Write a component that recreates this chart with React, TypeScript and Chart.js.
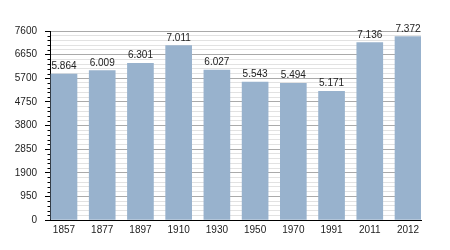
import React, { useEffect, useRef } from "react";
import { Chart, registerables } from "chart.js";

Chart.register(...registerables);

const categories: string[] = ["1857", "1877", "1897", "1910", "1930", "1950", "1970", "1991", "2011", "2012"];
const population: number[] = [5864, 6009, 6301, 7011, 6027, 5543, 5494, 5171, 7136, 7372];
const yMax = 7600;
const yMajorStep = 950;
const yMinorStep = 190;

const FONT = "'Liberation Sans', Arial, Helvetica, sans-serif";

function fmt(v: number): string {
  const th = Math.floor(v / 1000);
  const rest = v % 1000;
  return th > 0 ? th + "." + String(rest).padStart(3, "0") : String(rest);
}

const valueLabels = {
  id: "valueLabels",
  afterDatasetsDraw(chart: any) {
    const ctx = chart.ctx;
    const meta = chart.getDatasetMeta(0);
    ctx.save();
    ctx.font = `10px ${FONT}`;
    ctx.fillStyle = "#222";
    ctx.textAlign = "center";
    ctx.textBaseline = "alphabetic";
    meta.data.forEach((bar: any, i: number) => {
      ctx.fillText(fmt(population[i]), bar.x, bar.y - 5);
    });
    ctx.restore();
  },
};

const minorTicks = {
  id: "minorTicks",
  afterDraw(chart: any) {
    const ctx = chart.ctx;
    const y = chart.scales.y;
    const left = chart.chartArea.left;
    ctx.save();
    ctx.strokeStyle = "#000";
    ctx.lineWidth = 1;
    y.ticks.forEach((t: any) => {
      if (t.value % yMajorStep === 0) return;
      const py = Math.round(y.getPixelForValue(t.value)) + 0.5;
      ctx.beginPath();
      ctx.moveTo(left - 2.5, py);
      ctx.lineTo(left, py);
      ctx.stroke();
    });
    ctx.restore();
  },
};

export default function App() {
  const ref = useRef<HTMLCanvasElement>(null);
  useEffect(() => {
    if (!ref.current) return;
    const chart = new Chart(ref.current, {
      type: "bar",
      data: {
        datasets: [
          {
            data: population.map((v, i) => ({ x: i, y: v })),
            backgroundColor: "#98b2cd",
            borderWidth: 0,
            barThickness: 26,
          },
        ],
      },
      options: {
        responsive: false,
        animation: false,
        layout: { padding: { top: 31, right: 29, left: 0, bottom: 0 } },
        plugins: { legend: { display: false }, tooltip: { enabled: false } },
        scales: {
          x: {
            type: "linear",
            offset: false,
            min: -0.366,
            max: 9.34,
            afterFit: (s: any) => {
              s.height = 30;
            },
            grid: { display: false, drawTicks: false, offset: false },
            border: { display: true, color: "#000", width: 1 },
            ticks: {
              stepSize: 1,
              includeBounds: false,
              autoSkip: false,
              maxRotation: 0,
              padding: 4,
              color: "#222",
              font: { family: FONT, size: 10 },
              callback: (v: any) => (Number.isInteger(v) && categories[v] !== undefined ? categories[v] : ""),
            },
          },
          y: {
            min: 0,
            max: yMax,
            afterFit: (s: any) => {
              s.width = 50;
            },
            border: { display: true, color: "#000", width: 1 },
            grid: {
              color: (c: any) => (c.tick && c.tick.value % yMajorStep === 0 ? "#aaaaaa" : "#e2e2e2"),
              tickColor: (c: any) => (c.tick && c.tick.value % yMajorStep === 0 ? "#000" : "rgba(0,0,0,0)"),
              tickLength: 5,
              lineWidth: 1,
            },
            ticks: {
              stepSize: yMinorStep,
              autoSkip: false,
              padding: 8,
              color: "#222",
              font: { family: FONT, size: 10 },
              callback: (v: any) => (v % yMajorStep === 0 ? String(v) : ""),
            },
          },
        },
      },
      plugins: [valueLabels, minorTicks],
    });
    return () => chart.destroy();
  }, []);
  return (
    <div style={{ position: "fixed", left: 0, top: 0, width: 450, height: 250, background: "#fff" }}>
      <canvas ref={ref} width={450} height={250} />
    </div>
  );
}
